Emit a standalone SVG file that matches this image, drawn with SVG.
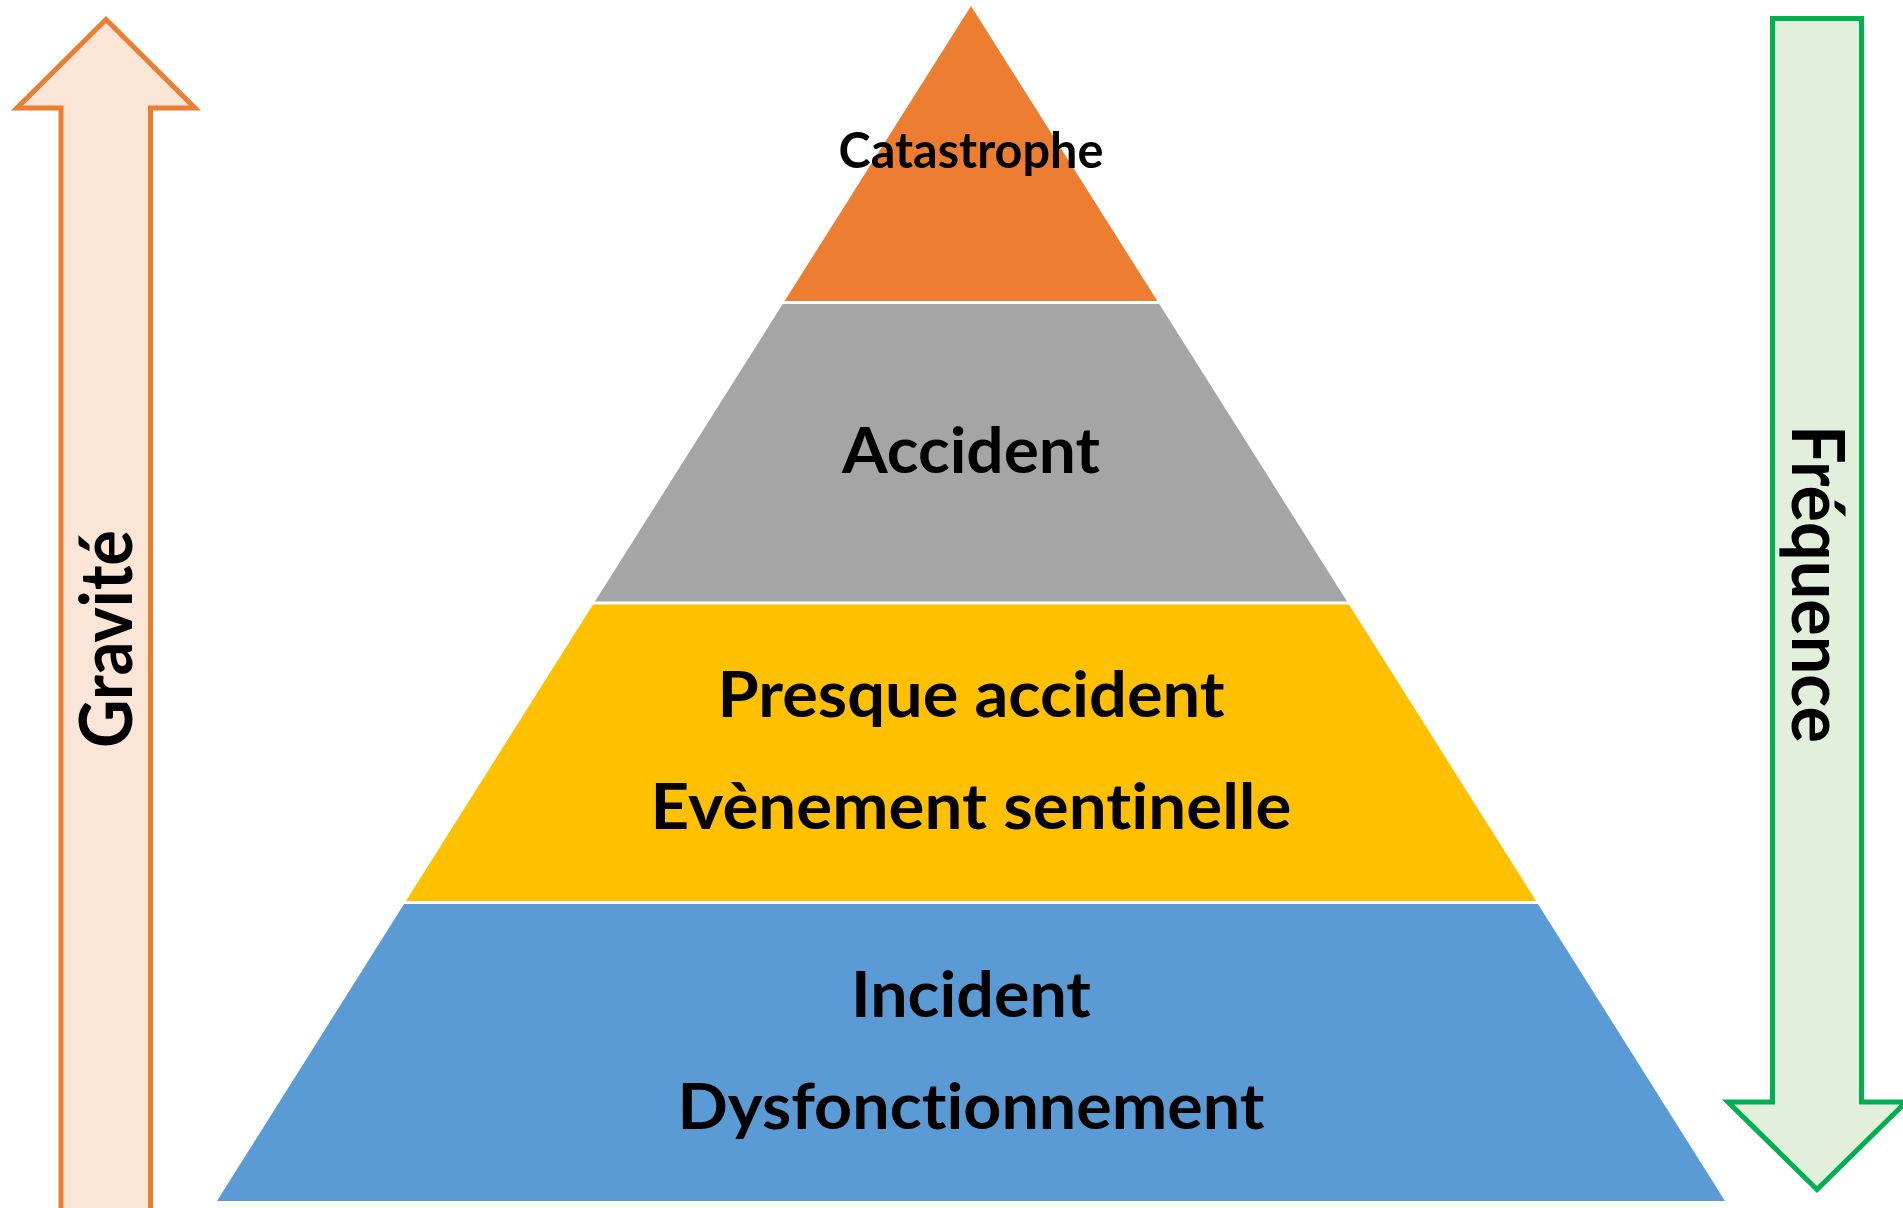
<svg xmlns="http://www.w3.org/2000/svg" width="1903" height="1208" viewBox="0 0 1903 1208">
<style>
.lbl{font-family:Lato,"Open Sans","Liberation Sans",sans-serif;font-weight:bold;fill:#000;text-anchor:middle;font-variant-ligatures:none;font-feature-settings:"liga" 0,"clig" 0}
.sep{stroke:#fff;stroke-width:3}
</style>
<rect width="1903" height="1208" fill="#fff"/>
<g id="arrow-gravite">
<polygon points="106,19.5 195,108 150.5,108 150.5,1212 61,1212 61,108 17,108" fill="#FBE5D6" stroke="#ED7D31" stroke-width="5"/>
<text class="lbl" font-size="72" transform="translate(132,639) rotate(-90)" textLength="218" lengthAdjust="spacingAndGlyphs">Gravité</text>
</g>
<g id="arrow-frequence">
<polygon points="1772.5,18.5 1861.5,18.5 1861.5,1102 1906,1102 1817,1189.5 1728,1102 1772.5,1102" fill="#E2EFDA" stroke="#00B050" stroke-width="5"/>
<text class="lbl" font-size="72" transform="translate(1792,584) rotate(90)" textLength="318" lengthAdjust="spacingAndGlyphs">Fréquence</text>
</g>
<g id="layer-catastrophe">
<polygon points="971,6 1158,302 784,302" fill="#ED7D31"/>
<text class="lbl" font-size="50" x="971" y="168" textLength="265" lengthAdjust="spacingAndGlyphs">Catastrophe</text>
</g>
<g id="layer-accident">
<polygon points="784,302 1158,302 1348,603 594,603" fill="#A5A5A5"/>
<text class="lbl" font-size="64" x="971" y="473" textLength="258" lengthAdjust="spacingAndGlyphs">Accident</text>
</g>
<g id="layer-presque">
<polygon points="594,603 1348,603 1537,902.5 405,902.5" fill="#FFC000"/>
<text class="lbl" font-size="64" x="971" y="717" textLength="507" lengthAdjust="spacingAndGlyphs">Presque accident</text>
<text class="lbl" font-size="64" x="971" y="829" textLength="641" lengthAdjust="spacingAndGlyphs">Evènement sentinelle</text>
</g>
<g id="layer-incident">
<polygon points="405,902.5 1537,902.5 1725,1201 217,1201" fill="#5B9BD5"/>
<text class="lbl" font-size="64" x="971" y="1017" textLength="240" lengthAdjust="spacingAndGlyphs">Incident</text>
<text class="lbl" font-size="64" x="971" y="1129" textLength="587" lengthAdjust="spacingAndGlyphs">Dysfonctionnement</text>
</g>
<g id="connectors">
<line class="sep" x1="780" y1="302.5" x2="1162" y2="302.5"/>
<line class="sep" x1="590" y1="603" x2="1352" y2="603"/>
<line class="sep" x1="400" y1="902.5" x2="1542" y2="902.5"/>
</g>
</svg>
